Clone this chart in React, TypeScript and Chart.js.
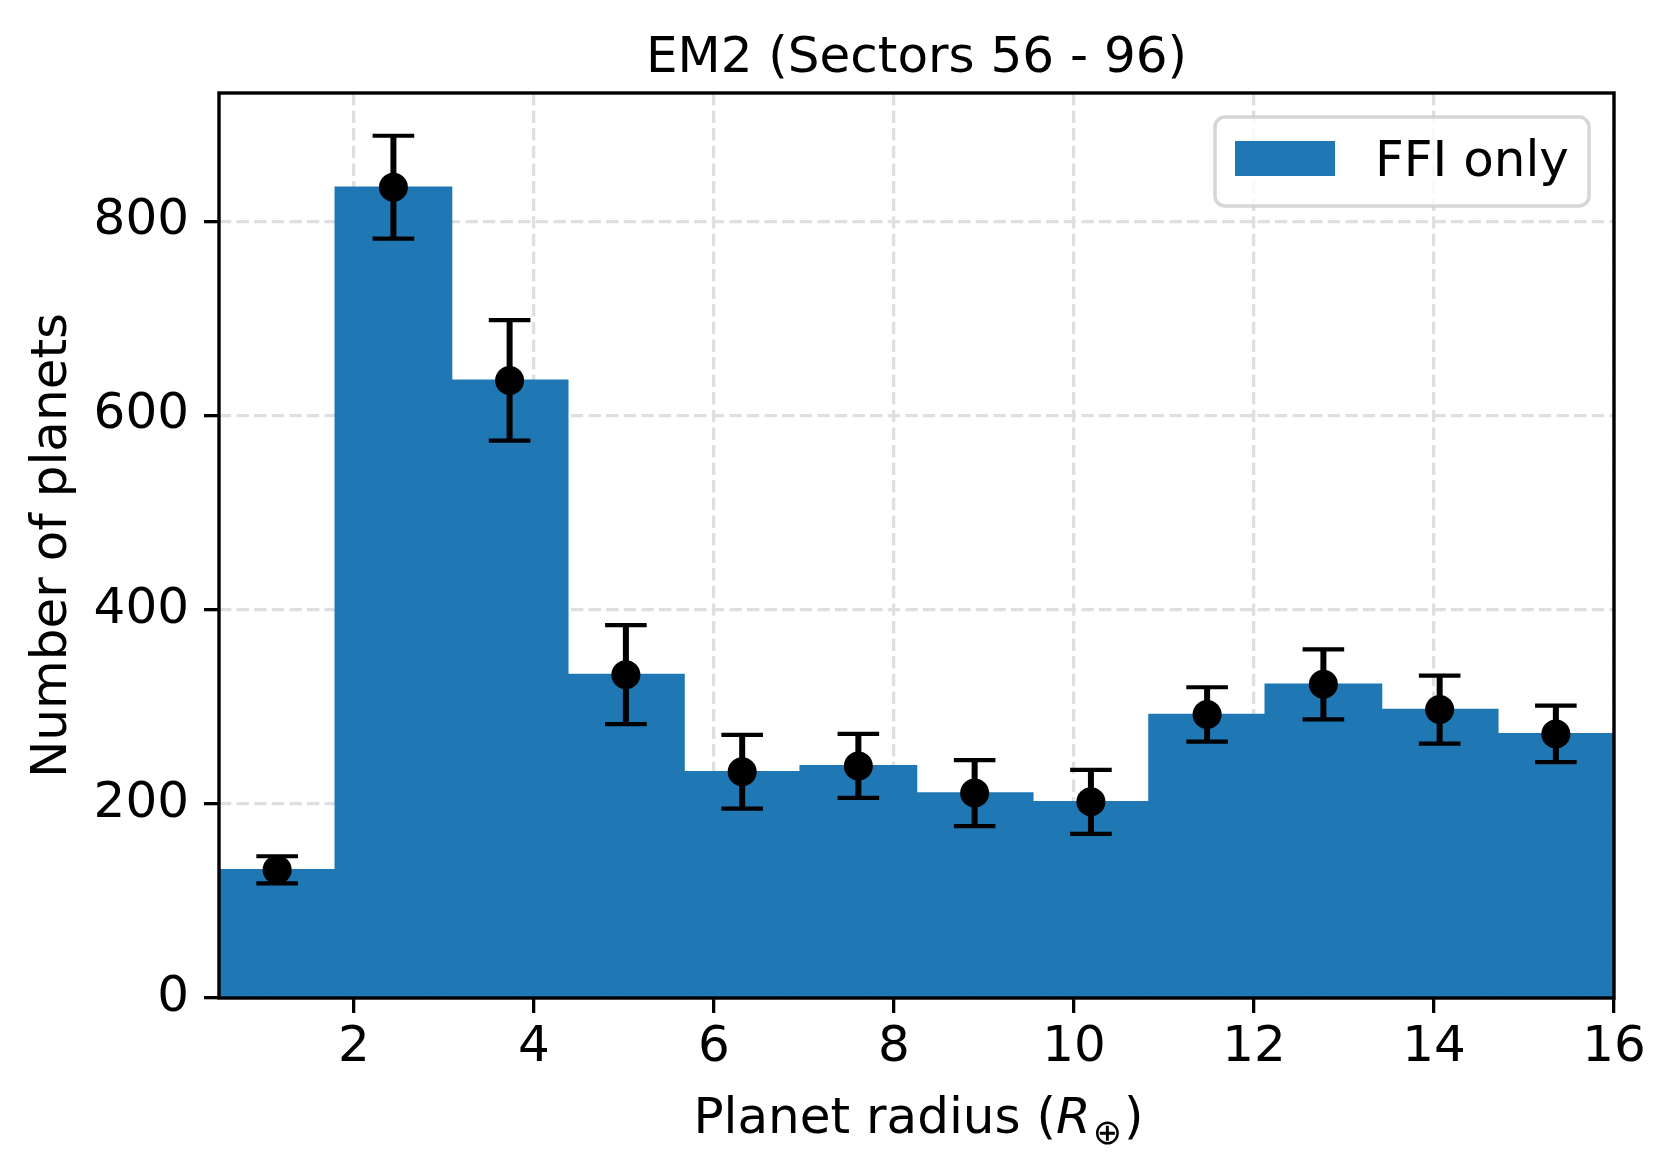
import React, { useEffect, useRef } from "react";
import { Chart, registerables } from "chart.js";

Chart.register(...registerables);

// ---- Data ----
const binCenters = [1.146, 2.438, 3.729, 5.021, 6.313, 7.604, 8.896, 10.188, 11.479, 12.771, 14.063, 15.354];
const counts = [132, 835, 636, 333, 233, 239, 211, 202, 292, 323, 297, 272];
const errors = [14, 53, 62, 51, 38, 33, 34, 33, 28, 36, 35, 29];
const xTickValues = [2, 4, 6, 8, 10, 12, 14, 16];
const yTickValues = [0, 200, 400, 600, 800];
const xRange = [0.5, 16];
const yRange = [0, 932];
const titleText = "EM2 (Sectors 56 - 96)";
const yAxisLabel = "Number of planets";
const xAxisLabelParts = ["Planet radius (", "R", "\u2295", ")"];
const legendLabel = "FFI only";

const FONT = "'DejaVu Sans', 'Liberation Sans', sans-serif";
const BAR_COLOR = "#1f77b4";
const GRID_COLOR = "#dfdfdf";

const errorBarPlugin = {
  id: "errorBars",
  afterDatasetDraw(chart: any, args: any) {
    if (args.meta.type !== "bar") return;
    const ctx = chart.ctx;
    const xs = chart.scales.x;
    const ys = chart.scales.y;
    ctx.save();
    ctx.strokeStyle = "#000";
    for (let i = 0; i < counts.length; i++) {
      const px = xs.getPixelForValue(binCenters[i]);
      const yTop = ys.getPixelForValue(counts[i] + errors[i]);
      const yBot = ys.getPixelForValue(counts[i] - errors[i]);
      ctx.lineWidth = 6;
      ctx.beginPath();
      ctx.moveTo(px, yTop);
      ctx.lineTo(px, yBot);
      ctx.stroke();
      ctx.lineWidth = 4.2;
      ctx.beginPath();
      ctx.moveTo(px - 20.8, yTop);
      ctx.lineTo(px + 20.8, yTop);
      ctx.moveTo(px - 20.8, yBot);
      ctx.lineTo(px + 20.8, yBot);
      ctx.stroke();
    }
    ctx.restore();
  },
};

const framePlugin = {
  id: "frameAndLabels",
  afterDraw(chart: any) {
    const ctx = chart.ctx;
    const ca = chart.chartArea;
    const cx = (ca.left + ca.right) / 2;
    ctx.save();
    // spines
    ctx.strokeStyle = "#000";
    ctx.lineWidth = 3.4;
    ctx.strokeRect(ca.left, ca.top, ca.right - ca.left, ca.bottom - ca.top);

    // title
    ctx.fillStyle = "#000";
    ctx.font = `50px ${FONT}`;
    ctx.textAlign = "center";
    ctx.textBaseline = "alphabetic";
    ctx.fillText(titleText, cx, ca.top - 21);

    // x axis label with math-style R_earth
    const fonts = [
      `50px ${FONT}`,
      `italic 50px ${FONT}`,
      `35px ${FONT}`,
      `50px ${FONT}`,
    ];
    const shifts = [0, 0, 11, 0];
    const widths = xAxisLabelParts.map((t, i) => {
      ctx.font = fonts[i];
      return ctx.measureText(t).width;
    });
    const extra = [0, 2, 2, 0];
    const total = widths.reduce((a, b) => a + b, 0) + extra.reduce((a, b) => a + b, 0);
    let x = cx + 2 - total / 2;
    const baseline = ca.bottom + 135;
    ctx.textAlign = "left";
    xAxisLabelParts.forEach((t, i) => {
      ctx.font = fonts[i];
      ctx.fillText(t, x, baseline + shifts[i]);
      x += widths[i] + extra[i];
    });

    // legend
    const bx0 = ca.right - 399;
    const bx1 = ca.right - 25;
    const by0 = ca.top + 24;
    const by1 = ca.top + 113;
    ctx.beginPath();
    ctx.roundRect(bx0, by0, bx1 - bx0, by1 - by0, 10);
    ctx.fillStyle = "rgba(255,255,255,0.8)";
    ctx.fill();
    ctx.lineWidth = 3.5;
    ctx.strokeStyle = "rgba(204,204,204,0.8)";
    ctx.stroke();
    ctx.fillStyle = BAR_COLOR;
    ctx.fillRect(ca.right - 379, ca.top + 48, 100, 35);
    ctx.fillStyle = "#000";
    ctx.font = `50px ${FONT}`;
    ctx.fillText(legendLabel, ca.right - 239, ca.top + 83);
    ctx.restore();
  },
};

export default function App() {
  const canvasRef = useRef<HTMLCanvasElement | null>(null);

  useEffect(() => {
    const canvas = canvasRef.current;
    if (!canvas) return;
    const tickFont = { family: FONT, size: 50, weight: "normal" as const };
    const chart = new Chart(canvas, {
      type: "bar",
      data: {
        datasets: [
          {
            type: "bar",
            label: legendLabel,
            data: binCenters.map((x, i) => ({ x, y: counts[i] })),
            backgroundColor: BAR_COLOR,
            borderWidth: 0,
            barPercentage: 1,
            categoryPercentage: 1,
            inflateAmount: 0.8,
            order: 1,
          } as any,
          {
            type: "line",
            label: "points",
            data: binCenters.map((x, i) => ({ x, y: counts[i] })),
            showLine: false,
            pointRadius: 14.5,
            pointHoverRadius: 14.5,
            pointBackgroundColor: "#000",
            pointBorderWidth: 0,
            borderColor: "#000",
            order: 0,
          } as any,
        ],
      },
      options: {
        animation: false,
        responsive: false,
        events: [],
        layout: { padding: { left: 0, right: 62, top: 93, bottom: 0 } },
        plugins: {
          legend: { display: false },
          tooltip: { enabled: false },
          title: { display: false },
        },
        scales: {
          x: {
            type: "linear",
            min: xRange[0],
            max: xRange[1],
            offset: false,
            grid: {
              offset: false,
              color: GRID_COLOR,
              lineWidth: 3.3,
              drawTicks: true,
              tickLength: 15,
              tickWidth: 3.3,
              tickColor: "#000",
            },
            border: { display: false, dash: [12.3, 5.3] },
            ticks: {
              color: "#000",
              font: tickFont,
              padding: 5,
              maxRotation: 0,
              autoSkip: false,
            },
            afterBuildTicks: (s: any) => {
              s.ticks = xTickValues.map((v) => ({ value: v }));
            },
            afterFit: (s: any) => {
              s.height = 175;
            },
          },
          y: {
            type: "linear",
            min: yRange[0],
            max: yRange[1],
            grid: {
              color: GRID_COLOR,
              lineWidth: 3.3,
              drawTicks: true,
              tickLength: 15,
              tickWidth: 3.3,
              tickColor: "#000",
            },
            border: { display: false, dash: [12.3, 5.3] },
            ticks: {
              color: "#000",
              font: tickFont,
              padding: 15,
              autoSkip: false,
            },
            title: {
              display: true,
              text: yAxisLabel,
              color: "#000",
              font: { family: FONT, size: 50, weight: "normal" },
              padding: { top: 23, bottom: 0 },
            },
            afterBuildTicks: (s: any) => {
              s.ticks = yTickValues.map((v) => ({ value: v }));
            },
            afterFit: (s: any) => {
              s.width = 219;
            },
          },
        },
      } as any,
      plugins: [errorBarPlugin, framePlugin],
    });
    return () => chart.destroy();
  }, []);

  return (
    <div style={{ position: "fixed", left: 0, top: 0, width: 1676, height: 1173, background: "#fff" }}>
      <canvas ref={canvasRef} width={1676} height={1173} style={{ display: "block", width: 1676, height: 1173 }} />
    </div>
  );
}
